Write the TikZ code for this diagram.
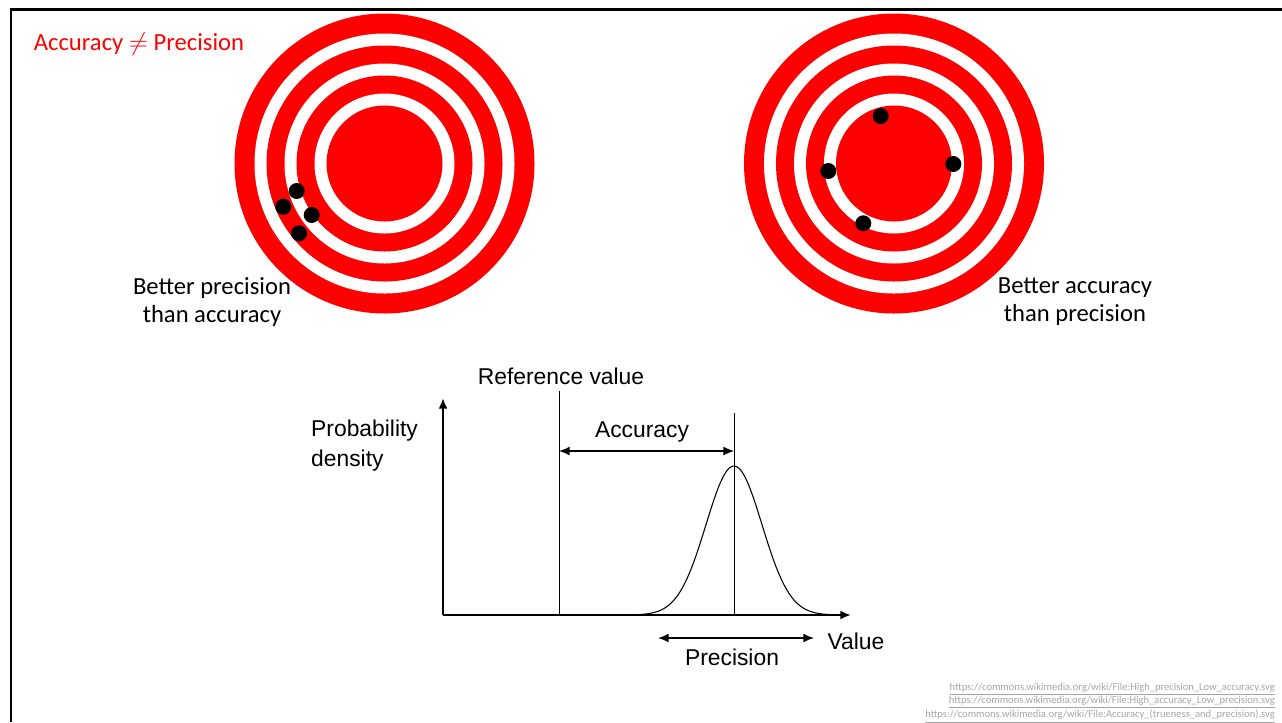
\documentclass[tikz,border=0pt]{standalone}
\usepackage{fontspec}
\setmainfont{Carlito}
\newfontfamily\chartfont{Liberation Sans}
\usetikzlibrary{arrows.meta}
\definecolor{targetred}{RGB}{255,0,0}
\definecolor{linkgray}{RGB}{165,165,165}

\begin{document}
\begin{tikzpicture}[x=0.2mm, y=-0.2mm, >={Latex[length=6pt,width=5pt]},
    caption/.style={align=center, font=\fontsize{14}{16}\selectfont},
    chartlbl/.style={font=\chartfont\fontsize{13}{17}\selectfont},
    shot/.style={fill=black}]
    \useasboundingbox (0,0) rectangle (1282,722);

    % Frame - top and left edge
    \draw[line width=1.7pt] (11,722) -- (11,9) -- (1282,9);

    % Title
    \node[text=targetred, font=\fontsize{14}{16}\selectfont] (title) at (139,44) {Accuracy $\neq$ Precision};

    % Target 1 - high precision, low accuracy
    \foreach \r/\c in {150/targetred,130/white,118/targetred,100/white,88/targetred,70/white,58/targetred}
        \fill[\c] (384.5,163.5) circle (\r);
    \fill[shot] (296.7,191) circle (8);
    \fill[shot] (283.3,206.7) circle (8);
    \fill[shot] (311.7,215) circle (8);
    \fill[shot] (299,233.3) circle (8);
    \node[caption] (leftcap) at (212,302) {Better precision\\than accuracy};

    % Target 2 - high accuracy, low precision
    \foreach \r/\c in {150/targetred,130/white,118/targetred,100/white,88/targetred,70/white,58/targetred}
        \fill[\c] (894,163.5) circle (\r);
    \fill[shot] (880.7,116) circle (8);
    \fill[shot] (953.3,164) circle (8);
    \fill[shot] (828.3,171) circle (8);
    \fill[shot] (863.3,223.3) circle (8);
    \node[caption] (rightcap) at (1075,302) {Better accuracy\\than precision};

    % Probability density chart
    \coordinate (origin) at (443,615);
    \coordinate (ytop) at (443,398);
    \coordinate (xend) at (851,615);
    \coordinate (reftop) at (559,391);
    \coordinate (refbot) at (559,615);
    \coordinate (meantop) at (734,413);
    \coordinate (meanbot) at (734,615);
    \coordinate (accleft) at (559,451);
    \coordinate (accright) at (734,451);
    \coordinate (precleft) at (658,638);
    \coordinate (precright) at (814,638);

    \draw[->, line width=1.4pt] (origin) -- (ytop);
    \draw[->, line width=1.4pt] (origin) -- (xend);
    \draw[line width=0.5pt] (refbot) -- (reftop);
    \draw[line width=0.5pt] (meanbot) -- (meantop);
    \draw[line width=0.6pt] plot[domain=-95:95, samples=100, smooth] ({734+\x}, {615-149*exp(-0.5*(\x/28)*(\x/28))});
    \draw[<->, line width=0.6pt] (accleft) -- (accright);
    \draw[<->, line width=0.9pt] (precleft) -- (precright);

    \node[chartlbl] (refval) at (561,376) {Reference value};
    \node[chartlbl] (acclbl) at (642,432) {Accuracy};
    \node[chartlbl, anchor=west, align=left] (density) at (305,446) {Probability\\density};
    \node[chartlbl] (valuelbl) at (856,641) {Value};
    \node[chartlbl] (preclbl) at (732,657) {Precision};

    % Sources
    \node[anchor=east, align=right, text=linkgray, font=\fontsize{6}{7.4}\selectfont] (sources) at (1281,703)
        {\underline{https://commons.wikimedia.org/wiki/File:High\_precision\_Low\_accuracy.svg}\\
         \underline{https://commons.wikimedia.org/wiki/File:High\_accuracy\_Low\_precision.svg}\\
         \underline{https://commons.wikimedia.org/wiki/File:Accuracy\_(trueness\_and\_precision).svg}};
\end{tikzpicture}
\end{document}
